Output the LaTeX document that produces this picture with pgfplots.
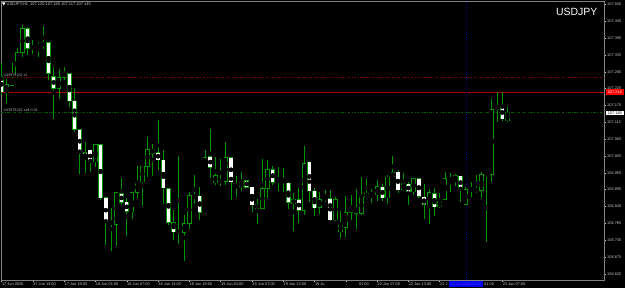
\documentclass[border=0pt]{standalone}
\usepackage{fontspec}
\setmainfont{Liberation Sans}
\usepackage{pgfplots}
\pgfplotsset{compat=1.18}
\usepackage{pgfplotstable}

\definecolor{wick}{RGB}{0,150,0}
\definecolor{lbl}{RGB}{200,200,200}
\definecolor{frame}{RGB}{128,128,128}
\definecolor{objtxt}{RGB}{170,170,170}
\definecolor{slred}{RGB}{120,0,0}
\definecolor{hred}{RGB}{170,0,0}
\definecolor{ordgreen}{RGB}{0,90,0}
\definecolor{vblue}{RGB}{0,0,140}

\pgfplotstableread{
i o h l c
0 107.264 107.313 107.204 107.214
1 107.214 107.256 107.180 107.239
2 107.237 107.307 107.233 107.261
3 107.264 107.357 107.261 107.344
4 107.344 107.435 107.329 107.422
5 107.422 107.427 107.337 107.357
6 107.357 107.384 107.337 107.364
7 107.366 107.378 107.329 107.367
8 107.365 107.429 107.354 107.376
9 107.376 107.377 107.256 107.275
10 107.266 107.296 107.128 107.226
11 107.226 107.288 107.193 107.262
12 107.261 107.296 107.253 107.279
13 107.275 107.276 107.166 107.185
14 107.185 107.224 107.084 107.093
15 107.092 107.093 106.945 107.016
16 107.017 107.051 106.952 106.998
17 107.025 107.026 106.953 106.986
18 106.986 107.046 106.970 107.043
19 107.043 107.046 106.861 106.869
20 106.870 106.871 106.715 106.789
21 106.789 106.836 106.696 106.786
22 106.783 106.888 106.712 106.887
23 106.883 106.934 106.845 106.854
24 106.855 106.869 106.745 106.823
25 106.823 106.888 106.800 106.887
26 106.887 106.973 106.869 106.921
27 106.921 106.974 106.843 106.973
28 106.973 107.070 106.937 107.028
29 107.028 107.046 106.939 107.016
30 107.016 107.122 106.959 106.992
31 106.992 107.025 106.850 106.900
32 106.900 106.901 106.780 106.789
33 106.789 106.829 106.731 106.758
34 106.756 107.005 106.718 106.758
35 106.755 106.813 106.664 106.785
36 106.785 106.889 106.769 106.877
37 106.872 106.943 106.850 106.874
38 106.874 106.905 106.796 106.821
39 106.821 107.027 106.818 107.003
40 107.003 107.092 106.935 106.968
41 106.918 107.001 106.911 106.943
42 106.922 106.995 106.908 106.924
43 106.921 107.051 106.911 107.000
44 107.000 107.001 106.861 106.919
45 106.918 106.939 106.872 106.905
46 106.905 106.953 106.891 106.921
47 106.926 106.929 106.901 106.904
48 106.904 106.906 106.823 106.845
49 106.847 106.867 106.785 106.834
50 106.834 106.995 106.832 106.900
51 106.899 106.992 106.867 106.962
52 106.962 106.972 106.911 106.919
53 106.921 106.968 106.891 106.927
54 106.925 106.968 106.889 106.921
55 106.918 106.920 106.834 106.854
56 106.850 106.883 106.762 106.864
57 106.864 106.903 106.787 106.827
58 106.827 107.038 106.813 106.981
59 106.986 106.990 106.855 106.892
60 106.892 106.900 106.809 106.837
61 106.837 106.889 106.816 106.864
62 106.865 106.894 106.855 106.867
63 106.867 106.896 106.794 106.796
64 106.796 106.870 106.793 106.864
65 106.757 106.827 106.737 106.781
66 106.772 106.874 106.740 106.821
67 106.820 106.880 106.796 106.837
68 106.835 106.897 106.766 106.818
69 106.816 106.937 106.814 106.872
70 106.872 106.930 106.870 106.883
71 106.884 106.897 106.852 106.878
72 106.878 106.927 106.859 106.905
73 106.905 106.914 106.859 106.869
74 106.869 106.943 106.848 106.937
75 106.937 107.005 106.936 106.953
76 106.953 106.959 106.885 106.894
77 106.894 106.952 106.892 106.916
78 106.914 106.921 106.848 106.888
79 106.888 106.933 106.878 106.932
80 106.932 106.933 106.870 106.872
81 106.872 106.914 106.800 106.847
82 106.844 106.897 106.785 106.887
83 106.883 106.901 106.809 106.840
84 106.840 106.885 106.838 106.859
85 106.864 106.953 106.861 106.932
86 106.933 106.949 106.889 106.928
87 106.927 106.945 106.908 106.941
88 106.941 106.942 106.856 106.897
89 106.847 106.905 106.845 106.897
90 106.897 106.921 106.870 106.894
91 106.897 106.943 106.885 106.891
92 106.894 106.952 106.867 106.945
93 106.945 106.948 106.725 106.946
94 106.945 107.193 106.921 107.158
95 107.157 107.213 107.116 107.168
96 107.169 107.213 107.120 107.128
97 107.120 107.165 107.117 107.145
}\candles

\newcommand{\tinyf}{\fontsize{3.9}{4.5}\selectfont}

\begin{document}
\begin{tikzpicture}
\useasboundingbox (0,0) rectangle (625bp,288bp);
\fill[black] (0,0) rectangle (625bp,288bp);
\begin{axis}[
  at={(1bp,8bp)}, anchor=south west,
  scale only axis, width=603bp, height=279bp,
  xmin=-0.1, xmax=115.5, ymin=106.600, ymax=107.511,
  axis line style={draw=frame, line width=0.7bp},
  xtick={0,6,...,96},
  xticklabels={17 Jun 2020,17 Jun 13:00,17 Jun 19:00,18 Jun 01:00,18 Jun 07:00,18 Jun 13:00,18 Jun 19:00,19 Jun 01:00,19 Jun 07:00,19 Jun 13:00,19 Ju,\phantom{22 Jun }01:00,22 Jun 07:00,22 Jun 13:00,22 J,\phantom{23 Jun }01:00,23 Jun 07:00},
  ytick={106.620,106.675,106.730,106.785,106.840,106.895,106.950,107.005,107.060,107.115,107.170,107.225,107.280,107.335,107.390,107.445,107.500},
  yticklabels={106.620,106.675,106.730,106.785,106.840,106.895,106.950,107.005,107.060,107.115,107.170,107.225,107.280,107.335,107.390,107.445,107.500},
  xtick pos=left, ytick pos=right, yticklabel pos=right,
  tick align=outside, major tick length=2bp,
  tick style={draw=lbl, line width=0.4bp},
  xticklabel style={font=\tinyf, text=lbl, anchor=north west, inner sep=0pt, xshift=0.3bp, yshift=-0.6bp},
  yticklabel style={font=\tinyf, text=lbl, anchor=west, inner sep=0pt, xshift=1bp},
  clip=true,
]
% order / object lines
\draw[slred, line width=0.6bp, dash pattern=on 2.5bp off 1.5bp on 0.8bp off 1.5bp] (axis cs:-0.1,107.261) -- (axis cs:115.5,107.261);
\draw[ordgreen, line width=0.6bp, dash pattern=on 2.5bp off 1.5bp on 0.8bp off 1.5bp] (axis cs:-0.1,107.147) -- (axis cs:115.5,107.147);
\draw[hred, line width=0.9bp] (axis cs:-0.1,107.214) -- (axis cs:115.5,107.214);
\draw[vblue, line width=0.25bp, dash pattern=on 0.5bp off 2bp] (axis cs:89,106.600) -- (axis cs:89,107.511);

% wicks
\addplot[only marks, mark=none, error bars/.cd, y dir=both, y explicit, error mark=none,
  error bar style={draw=wick, line width=0.8bp}]
  table[x=i, y expr={(\thisrow{h}+\thisrow{l})/2},
        y error plus expr={(\thisrow{h}-\thisrow{l})/2},
        y error minus expr={(\thisrow{h}-\thisrow{l})/2}] {\candles};
% body outline
\addplot[only marks, mark=none, error bars/.cd, y dir=both, y explicit, error mark=none,
  error bar style={draw=wick, line width=4.4bp, line cap=butt}]
  table[x=i, y expr={(\thisrow{o}+\thisrow{c})/2},
        y error plus expr={abs(\thisrow{c}-\thisrow{o})/2+0.0011},
        y error minus expr={abs(\thisrow{c}-\thisrow{o})/2+0.0011}] {\candles};
% bull body fill (black)
\addplot[only marks, mark=none, restrict expr to domain={\thisrow{c}-\thisrow{o}}{0:1},
  error bars/.cd, y dir=both, y explicit, error mark=none,
  error bar style={draw=black, line width=3.1bp, line cap=butt}]
  table[x=i, y expr={(\thisrow{o}+\thisrow{c})/2},
        y error plus expr={max(abs(\thisrow{c}-\thisrow{o})/2-0.0012,0)},
        y error minus expr={max(abs(\thisrow{c}-\thisrow{o})/2-0.0012,0)}] {\candles};
% bear body fill (white)
\addplot[only marks, mark=none, restrict expr to domain={\thisrow{c}-\thisrow{o}}{-1:-0.0000001},
  error bars/.cd, y dir=both, y explicit, error mark=none,
  error bar style={draw=white, line width=3.4bp, line cap=butt}]
  table[x=i, y expr={(\thisrow{o}+\thisrow{c})/2},
        y error plus expr={max(abs(\thisrow{c}-\thisrow{o})/2-0.0008,0)},
        y error minus expr={max(abs(\thisrow{c}-\thisrow{o})/2-0.0008,0)}] {\candles};
\end{axis}

% header
\fill[white] (2bp,285.5bp) -- (5.5bp,285.5bp) -- (3.75bp,282.5bp) -- cycle;
\node[anchor=base west, inner sep=0pt, font=\fontsize{4}{5}\selectfont, text=lbl] at (6.5bp,282bp)
  {USDJPY,H1\hspace{2bp}107.120 107.165 107.117 107.145};
\node[anchor=base east, inner sep=0pt, font=\fontsize{10.5}{12}\selectfont, text=white] at (597.5bp,272.5bp) {USDJPY};

% order labels
\node[anchor=base west, inner sep=0.4bp, fill=black, font=\fontsize{3.8}{4.5}\selectfont, text=objtxt] at (3.3bp,211.2bp) {\#43978242 sl};
\node[anchor=base west, inner sep=0.4bp, fill=black, font=\fontsize{3.8}{4.5}\selectfont, text=objtxt] at (3.3bp,176.6bp) {\#43978242 sell 0.01};

% price boxes on the scale
\node[fill=red, text=white, inner sep=0pt, minimum width=17.5bp, minimum height=5.6bp, font=\tinyf] at (614.8bp,196bp) {107.214};
\node[fill=white, text=black, inner sep=0pt, minimum width=17.5bp, minimum height=4.6bp, font=\tinyf] at (614.8bp,174.9bp) {107.145};

% vertical line time label
\node[fill={rgb,255:red,0;green,0;blue,235}, text={rgb,255:red,70;green,70;blue,255}, inner sep=0pt, minimum width=34bp, minimum height=5.8bp, font=\fontsize{3.6}{4}\selectfont] at (465.8bp,4.2bp) {23 Jun 2020 00:00};
\end{tikzpicture}
\end{document}
